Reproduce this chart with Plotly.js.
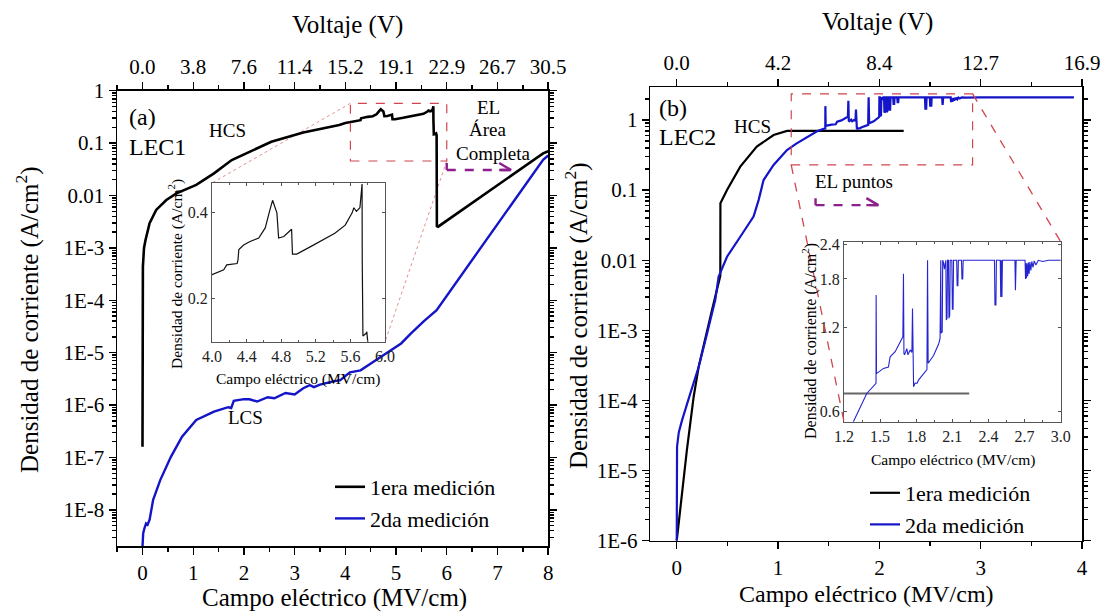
<!DOCTYPE html>
<html>
<head>
<meta charset="utf-8">
<script src="https://cdn.plot.ly/plotly-3.0.1.min.js"></script>
<style>
  html, body { margin: 0; padding: 0; background: #fff; }
  #chart { width: 1105px; height: 612px; }
</style>
</head>
<body>
<div id="chart"></div>
<script>
// ---------- LEC1: current density vs. electric field ----------
const lec1FirstX = [0, 0.002, 0.006, 0.008, 0.03, 0.06, 0.14, 0.27, 0.47, 0.67, 1.06, 1.41, 1.76, 2.11, 2.54, 3.17, 3.6, 3.88,
  4.00, 4.135, 4.17, 4.29, 4.30, 4.31, 4.365, 4.44, 4.54, 4.615, 4.67, 4.70, 4.75, 4.77, 4.83, 4.92, 4.93, 4.98, 5.14, 5.31,
  5.42, 5.54, 5.62, 5.64, 5.67, 5.71, 5.73, 5.735, 5.737, 5.745, 5.78, 5.79, 5.80, 5.805, 5.83, 6.72, 7.90, 8.0];
const lec1FirstY = [1.6e-7, 1.2e-6, 1.0e-4, 4.4e-4, 1.0e-3, 1.41e-3, 2.95e-3, 5.3e-3, 8.2e-3, 0.011, 0.0159, 0.0264, 0.0475, 0.0685, 0.106, 0.16, 0.195, 0.221,
  0.242, 0.252, 0.262, 0.265, 0.273, 0.297, 0.308, 0.317, 0.326, 0.354, 0.411, 0.443, 0.400, 0.326, 0.33, 0.35, 0.286, 0.286, 0.304, 0.326,
  0.339, 0.362, 0.400, 0.417, 0.405, 0.417, 0.47, 0.506, 0.273, 0.147, 0.150, 0.152, 0.141, 2.6e-3, 2.54e-3, 0.0102, 0.0638, 0.07];

const lec1SecondX = [0, 0.014, 0.04, 0.07, 0.1, 0.14, 0.21, 0.35, 0.56, 0.78, 1.06, 1.41, 1.69, 1.75, 1.80, 2.0, 2.11, 2.26, 2.47, 2.6,
  2.82, 3.0, 3.17, 3.3, 3.38, 3.5, 3.74, 3.9, 4.09, 4.3, 4.51, 4.79, 5.0, 5.1, 5.29, 5.55, 5.8, 6.26, 6.72, 7.38, 7.9, 8.0];
const lec1SecondY = [2.0e-9, 3.6e-9, 4.5e-9, 5.5e-9, 5.2e-9, 6.5e-9, 1.55e-8, 3.7e-8, 1.03e-7, 2.5e-7, 5.2e-7, 7.5e-7, 9.1e-7, 8.8e-7, 1.2e-6, 1.3e-6, 1.29e-6, 1.17e-6, 1.41e-6, 1.35e-6,
  1.7e-6, 1.6e-6, 2.1e-6, 2.4e-6, 2.2e-6, 2.45e-6, 2.8e-6, 3.0e-6, 4.2e-6, 4.6e-6, 6.3e-6, 9.4e-6, 1.3e-5, 1.5e-5, 2.3e-5, 4.0e-5, 6.5e-5, 2.75e-4, 1.2e-3, 9.2e-3, 0.048, 0.058];

// ---------- LEC2: current density vs. electric field ----------
const lec2FirstX = [0, 0.029, 0.10, 0.167, 0.216, 0.348, 0.43, 0.431, 0.496, 0.627, 0.79, 0.956, 1.088, 2.24];
const lec2FirstY = [1e-6, 2.45e-6, 1.96e-5, 1.13e-4, 3.0e-4, 1.95e-3, 6.0e-3, 0.065, 0.1, 0.216, 0.417, 0.61, 0.697, 0.697];

const lec2SecondX = [0, 0.003, 0.02, 0.052, 0.134, 0.216, 0.30, 0.38, 0.413, 0.496, 0.627, 0.758, 0.808, 0.857, 0.956, 1.088, 1.18,
  1.278, 1.389, 1.466, 1.467, 1.470, 1.528, 1.569, 1.583, 1.625, 1.689, 1.694, 1.698, 1.703, 1.722, 1.731, 1.750, 1.764, 1.769, 1.774,
  1.778, 1.790, 1.806, 1.82, 1.861, 1.889, 1.894, 1.899, 1.944, 1.986, 1.998, 2.000, 2.004, 2.006, 2.016, 2.020, 2.028, 2.034, 2.040,
  2.046, 2.050, 2.056, 2.060, 2.068, 2.072, 2.078, 2.082, 2.096, 2.100, 2.106, 2.110, 2.136, 2.140, 2.146, 2.150, 2.176, 2.180, 2.186,
  2.190, 2.450, 2.454, 2.462, 2.466, 2.498, 2.502, 2.506, 2.512, 2.516, 2.620, 2.624, 2.630, 2.704, 2.708, 2.712, 2.716, 2.720, 2.726,
  2.732, 2.738, 2.744, 2.752, 2.760, 2.770, 2.780, 2.794, 2.814, 2.85, 2.9, 3.0, 3.92];
const lec2SecondY = [1e-6, 2.2e-5, 3.5e-5, 5.2e-5, 1.26e-4, 3.0e-4, 9.1e-4, 2.7e-3, 5.8e-3, 0.0112, 0.0216, 0.042, 0.072, 0.139, 0.228, 0.373, 0.46,
  0.552, 0.697, 0.758, 1.574, 0.822, 0.858, 0.868, 0.944, 0.985, 1.114, 1.88, 0.97, 0.96, 1.01, 0.96, 1.00, 0.98, 1.41, 0.74,
  0.737, 0.76, 0.758, 0.78, 0.822, 0.85, 2.10, 0.895, 0.954, 1.05, 1.10, 2.10, 2.10, 1.15, 1.16, 2.10, 2.05, 1.95, 2.10,
  2.10, 1.28, 1.30, 2.10, 2.10, 1.30, 1.33, 2.10, 2.10, 1.40, 1.40, 2.10, 2.10, 1.70, 1.70, 2.10, 2.10, 1.80, 1.80,
  2.10, 2.10, 1.45, 1.45, 2.10, 2.10, 1.55, 2.10, 1.55, 2.10, 2.10, 1.64, 2.10, 2.10, 1.80, 2.05, 1.81, 2.05, 1.84,
  2.06, 1.88, 2.07, 1.93, 2.08, 1.98, 2.09, 2.02, 2.10, 2.08, 2.10, 2.10, 2.10];

// ---------- tick labels ----------
const fieldTicksA = [0, 1, 2, 3, 4, 5, 6, 7, 8];
const voltageLabelsA = ['0.0', '3.8', '7.6', '11.4', '15.2', '19.1', '22.9', '26.7', '30.5'];
const fieldTicksB = [0, 1, 2, 3, 4];
const voltageLabelsB = ['0.0', '4.2', '8.4', '12.7', '16.9'];
const densityTicksA = [1, 0.1, 0.01, 1e-3, 1e-4, 1e-5, 1e-6, 1e-7, 1e-8];
const densityLabelsA = ['1', '0.1', '0.01', '1E-3', '1E-4', '1E-5', '1E-6', '1E-7', '1E-8'];
const densityTicksB = [1, 0.1, 0.01, 1e-3, 1e-4, 1e-5, 1e-6];
const densityLabelsB = ['1', '0.1', '0.01', '1E-3', '1E-4', '1E-5', '1E-6'];
const insetTicksA = [0.2, 0.4];
const insetLabelsA = ['0.2', '0.4'];
const insetTicksB = [0.6, 1.2, 1.8, 2.4];
const insetLabelsB = ['0.6', '1.2', '1.8', '2.4'];

const legendNames = ['1era medición', '2da medición'];

// ---------- style ----------
const FONT = '"Liberation Serif", "Times New Roman", Times, serif';
const BLACK = '#000000';
const BLUE = '#1414C8';
const RED = '#D2454F';
const PURPLE = '#8E1F8E';

// minor ticks of a log axis (2..9 inside every decade)
function logMinor(lo, hi) {
  const out = [];
  for (let d = lo; d <= hi; d++) for (let m = 2; m <= 9; m++) out.push(m * Math.pow(10, d));
  return out;
}

const mainAxis = {
  showline: true, linecolor: BLACK, linewidth: 1.6, mirror: false,
  ticks: 'outside', ticklen: 7, tickwidth: 1.4, tickcolor: BLACK,
  showgrid: false, zeroline: false,
  tickfont: { family: FONT, size: 21, color: BLACK }
};
const insetAxis = {
  showline: true, linecolor: '#555', linewidth: 1, mirror: 'ticks',
  ticks: 'inside', ticklen: 3, tickwidth: 1, tickcolor: '#555',
  showgrid: false, zeroline: false,
  tickfont: { family: FONT, size: 16, color: '#222' }
};

const dom = {
  xA: [0.1060, 0.4961], yA: [0.1078, 0.8518],
  xB: [0.5886, 0.9792], yB: [0.1165, 0.8574],
  xAi: [0.1919, 0.3484], yAi: [0.4412, 0.7010],
  xBi: [0.7638, 0.9599], yBi: [0.3110, 0.6051]
};
const rng = {
  xA: [-0.5, 8], yA: [-8.69, 0],
  xB: [-0.26, 4], yB: [-6, 0.466],
  xAi: [4.0, 6.0], yAi: [Math.log10(0.14), Math.log10(0.51)],
  xBi: [1.2, 3.0], yBi: [Math.log10(0.552), Math.log10(2.45)]
};

const traces = [
  { x: lec1FirstX, y: lec1FirstY, xaxis: 'x', yaxis: 'y', mode: 'lines', name: legendNames[0],
    line: { color: BLACK, width: 2.6 }, legend: 'legend' },
  { x: lec1SecondX, y: lec1SecondY, xaxis: 'x', yaxis: 'y', mode: 'lines', name: legendNames[1],
    line: { color: BLUE, width: 2.4 }, legend: 'legend' },
  { x: lec2FirstX, y: lec2FirstY, xaxis: 'x3', yaxis: 'y3', mode: 'lines', name: legendNames[0],
    line: { color: BLACK, width: 2.2 }, legend: 'legend2' },
  { x: lec2SecondX, y: lec2SecondY, xaxis: 'x3', yaxis: 'y3', mode: 'lines', name: legendNames[1],
    line: { color: BLUE, width: 2.2 }, legend: 'legend2' },
  // the voltage scales on top share the field axes; empty traces make them drawn
  { x: [], y: [], xaxis: 'x2', yaxis: 'y', mode: 'lines', showlegend: false, hoverinfo: 'skip' },
  { x: [], y: [], xaxis: 'x4', yaxis: 'y3', mode: 'lines', showlegend: false, hoverinfo: 'skip' },
  // insets
  { x: lec1FirstX, y: lec1FirstY, xaxis: 'x5', yaxis: 'y5', mode: 'lines', showlegend: false,
    line: { color: '#111', width: 1.2 } },
  { x: lec2FirstX, y: lec2FirstY, xaxis: 'x6', yaxis: 'y6', mode: 'lines', showlegend: false,
    line: { color: '#666', width: 2 } },
  { x: lec2SecondX, y: lec2SecondY, xaxis: 'x6', yaxis: 'y6', mode: 'lines', showlegend: false,
    line: { color: '#2424D0', width: 1.1 } }
];

// data -> paper helper for the zoom connectors
function toPaper(v, d, r, isLog) {
  const t = isLog ? Math.log10(v) : v;
  return d[0] + (t - r[0]) / (r[1] - r[0]) * (d[1] - d[0]);
}

const boxA = { x0: 4.1, x1: 6.0, y0: 0.0455, y1: 0.575 };
const boxB = { x0: 1.13, x1: 2.92, y0: 0.228, y1: 2.35 };
const arrowA = { x0: 6.0, x1: 7.27, y: 0.0307 };
const arrowB = { x0: 1.37, x1: 1.99, y: 0.061 };

function arrowShapes(a, xr, yr) {
  const base = { type: 'line', xref: xr, yref: yr, line: { color: PURPLE, width: 2.4 } };
  return [
    Object.assign({}, base, { x0: a.x0, x1: a.x1, y0: a.y, y1: a.y, line: { color: PURPLE, width: 2.4, dash: 'dash' } }),
    Object.assign({}, base, { x0: a.x0, x1: a.x0, ysizemode: 'pixel', yanchor: a.y, y0: -7, y1: 7 }),
    Object.assign({}, base, { xsizemode: 'pixel', xanchor: a.x1, x0: -12, x1: 0, ysizemode: 'pixel', yanchor: a.y, y0: 7, y1: 0 }),
    Object.assign({}, base, { xsizemode: 'pixel', xanchor: a.x1, x0: -12, x1: 0, ysizemode: 'pixel', yanchor: a.y, y0: -7, y1: 0 })
  ];
}

const shapes = [
  { type: 'rect', xref: 'x', yref: 'y', x0: boxA.x0, x1: boxA.x1, y0: boxA.y0, y1: boxA.y1,
    line: { color: RED, width: 1.2, dash: 'dash' } },
  { type: 'rect', xref: 'x3', yref: 'y3', x0: boxB.x0, x1: boxB.x1, y0: boxB.y0, y1: boxB.y1,
    line: { color: RED, width: 1.2, dash: 'dash' } },
  // LEC1 connectors: box corners to inset corners
  { type: 'line', xref: 'paper', yref: 'paper', layer: 'below',
    x0: toPaper(boxA.x0, dom.xA, rng.xA, false), y0: toPaper(boxA.y1, dom.yA, rng.yA, true),
    x1: dom.xAi[0], y1: dom.yAi[1], line: { color: '#E39090', width: 1, dash: 'dot' } },
  { type: 'line', xref: 'paper', yref: 'paper', layer: 'below',
    x0: toPaper(boxA.x1, dom.xA, rng.xA, false), y0: toPaper(boxA.y0, dom.yA, rng.yA, true),
    x1: dom.xAi[1], y1: dom.yAi[0], line: { color: '#E39090', width: 1, dash: 'dot' } },
  // LEC2 connectors
  { type: 'line', xref: 'paper', yref: 'paper',
    x0: toPaper(boxB.x0, dom.xB, rng.xB, false), y0: toPaper(boxB.y0, dom.yB, rng.yB, true),
    x1: dom.xBi[0], y1: dom.yBi[0], line: { color: RED, width: 1.3, dash: 'dash' } },
  { type: 'line', xref: 'paper', yref: 'paper',
    x0: toPaper(boxB.x1, dom.xB, rng.xB, false), y0: toPaper(boxB.y1, dom.yB, rng.yB, true),
    x1: dom.xBi[1], y1: dom.yBi[1], line: { color: RED, width: 1.3, dash: 'dash' } }
].concat(arrowShapes(arrowA, 'x', 'y'), arrowShapes(arrowB, 'x3', 'y3'));

function txt(text, x, y, xref, yref, size, extra) {
  return Object.assign({ text: text, x: x, y: y, xref: xref, yref: yref, showarrow: false,
    xanchor: 'center', yanchor: 'middle', font: { family: FONT, size: size, color: BLACK } }, extra || {});
}
const W = 1105, H = 612;
const px = v => v / W, py = v => 1 - v / H;

const annotations = [
  // axis titles
  txt('Voltaje (V)', px(347), py(25), 'paper', 'paper', 25),
  txt('Voltaje (V)', px(877), py(22), 'paper', 'paper', 25),
  txt('Campo eléctrico (MV/cm)', px(334), py(598), 'paper', 'paper', 25),
  txt('Campo eléctrico (MV/cm)', px(866), py(594), 'paper', 'paper', 24),
  txt('Densidad de corriente (A/cm<sup>2</sup>)', px(27), py(320), 'paper', 'paper', 25, { textangle: -90 }),
  txt('Densidad de corriente (A/cm<sup>2</sup>)', px(576), py(316), 'paper', 'paper', 25, { textangle: -90 }),
  // inset titles
  txt('Campo eléctrico (MV/cm)', px(298), py(379), 'paper', 'paper', 15.5),
  txt('Densidad de corriente (A/cm<sup>2</sup>)', px(175), py(274), 'paper', 'paper', 15.5, { textangle: -90 }),
  txt('Campo eléctrico (MV/cm)', px(953), py(460), 'paper', 'paper', 15.5),
  txt('Densidad de corriente (A/cm<sup>2</sup>)', px(809), py(341), 'paper', 'paper', 16, { textangle: -90 }),
  // panel labels (log axes take log10 positions)
  txt('(a)', -0.31, -0.502, 'x', 'y', 24, { xanchor: 'left' }),
  txt('LEC1', -0.31, -1.074, 'x', 'y', 24, { xanchor: 'left' }),
  txt('HCS', 1.68, -0.769, 'x', 'y', 19),
  txt('EL', 6.83, -0.33, 'x', 'y', 19),
  txt('Área', 6.80, -0.75, 'x', 'y', 19),
  txt('Completa', 6.91, -1.19, 'x', 'y', 19),
  txt('LCS', 2.03, -6.245, 'x', 'y', 19),
  txt('(b)', -0.19, 0.171, 'x3', 'y3', 24, { xanchor: 'left' }),
  txt('LEC2', -0.19, -0.243, 'x3', 'y3', 24, { xanchor: 'left' }),
  txt('HCS', 0.746, -0.10, 'x3', 'y3', 19),
  txt('EL puntos', 1.75, -0.884, 'x3', 'y3', 19)
];

const layout = {
  width: W, height: H,
  margin: { l: 0, r: 0, t: 0, b: 0 },
  paper_bgcolor: '#ffffff', plot_bgcolor: '#ffffff',
  font: { family: FONT, color: BLACK },
  showlegend: true,
  legend: { x: px(330), y: py(466), xanchor: 'left', yanchor: 'top', bgcolor: 'rgba(0,0,0,0)',
    font: { family: FONT, size: 22, color: BLACK }, tracegroupgap: 0 },
  legend2: { x: px(865), y: py(472), xanchor: 'left', yanchor: 'top', bgcolor: 'rgba(0,0,0,0)',
    font: { family: FONT, size: 22, color: BLACK }, tracegroupgap: 0 },
  // LEC1 main
  xaxis: Object.assign({}, mainAxis, { domain: dom.xA, range: rng.xA, anchor: 'y',
    tickmode: 'array', tickvals: fieldTicksA,
    minor: { tickmode: 'linear', tick0: 0, dtick: 0.5, ticks: 'outside', ticklen: 4, tickcolor: BLACK } }),
  xaxis2: Object.assign({}, mainAxis, { overlaying: 'x', side: 'top', anchor: 'y', range: rng.xA,
    tickmode: 'array', tickvals: fieldTicksA, ticktext: voltageLabelsA,
    minor: { tickmode: 'linear', tick0: 0, dtick: 0.5, ticks: 'outside', ticklen: 4, tickcolor: BLACK } }),
  yaxis: Object.assign({}, mainAxis, { domain: dom.yA, range: rng.yA, type: 'log', anchor: 'x', mirror: 'ticks',
    tickmode: 'array', tickvals: densityTicksA, ticktext: densityLabelsA,
    minor: { tickmode: 'array', tickvals: logMinor(-9, -1), ticks: 'outside', ticklen: 4, tickcolor: BLACK } }),
  // LEC2 main
  xaxis3: Object.assign({}, mainAxis, { domain: dom.xB, range: rng.xB, anchor: 'y3',
    tickmode: 'array', tickvals: fieldTicksB,
    minor: { tickmode: 'linear', tick0: 0, dtick: 0.5, ticks: 'outside', ticklen: 4, tickcolor: BLACK } }),
  xaxis4: Object.assign({}, mainAxis, { overlaying: 'x3', side: 'top', anchor: 'y3', range: rng.xB,
    tickmode: 'array', tickvals: fieldTicksB, ticktext: voltageLabelsB,
    minor: { tickmode: 'linear', tick0: 0, dtick: 0.5, ticks: 'outside', ticklen: 4, tickcolor: BLACK } }),
  yaxis3: Object.assign({}, mainAxis, { domain: dom.yB, range: rng.yB, type: 'log', anchor: 'x3', mirror: 'ticks',
    tickmode: 'array', tickvals: densityTicksB, ticktext: densityLabelsB,
    minor: { tickmode: 'array', tickvals: logMinor(-6, 0), ticks: 'outside', ticklen: 4, tickcolor: BLACK } }),
  // insets
  xaxis5: Object.assign({}, insetAxis, { domain: dom.xAi, range: rng.xAi, anchor: 'y5',
    tickmode: 'linear', tick0: 4.0, dtick: 0.4, tickformat: '.1f',
    minor: { tickmode: 'linear', tick0: 4.0, dtick: 0.2, ticks: 'inside', ticklen: 2, tickcolor: '#555' } }),
  yaxis5: Object.assign({}, insetAxis, { domain: dom.yAi, range: rng.yAi, type: 'log', anchor: 'x5',
    tickmode: 'array', tickvals: insetTicksA, ticktext: insetLabelsA }),
  xaxis6: Object.assign({}, insetAxis, { domain: dom.xBi, range: rng.xBi, anchor: 'y6',
    tickmode: 'linear', tick0: 1.2, dtick: 0.3, tickformat: '.1f',
    minor: { tickmode: 'linear', tick0: 1.2, dtick: 0.15, ticks: 'inside', ticklen: 2, tickcolor: '#555' } }),
  yaxis6: Object.assign({}, insetAxis, { domain: dom.yBi, range: rng.yBi, type: 'log', anchor: 'x6',
    tickmode: 'array', tickvals: insetTicksB, ticktext: insetLabelsB }),
  shapes: shapes,
  annotations: annotations
};

Plotly.newPlot('chart', traces, layout, { staticPlot: true, displayModeBar: false });
</script>
</body>
</html>
